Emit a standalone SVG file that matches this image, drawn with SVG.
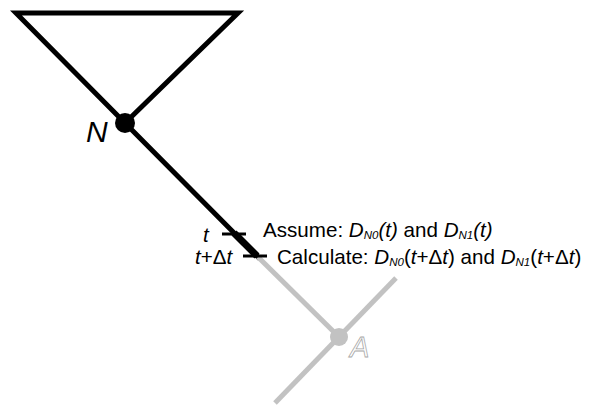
<svg xmlns="http://www.w3.org/2000/svg" width="592" height="406" viewBox="0 0 592 406">
<style>
.blk{stroke:#000;stroke-width:5;fill:none;stroke-linecap:square;stroke-linejoin:miter}
.gry{stroke:#c2c2c2;stroke-width:5;fill:none}
.tx{font-family:"Liberation Sans",Arial,sans-serif;font-size:20.6px;fill:#000}
.it{font-style:italic}
.sub{font-style:italic;font-size:11.5px}
</style>
<rect width="592" height="406" fill="#fff"/>
<g id="connectors">
<path class="blk" d="M16,13 L238,13 L125,123 L16,13 Z"/>
<line class="blk" x1="125" y1="123" x2="258" y2="257" stroke-linecap="butt"/>
<line x1="234" y1="233" x2="257" y2="256" stroke="#000" stroke-width="7"/>
<line class="gry" x1="258" y1="257" x2="339" y2="337"/>
<line class="gry" x1="396" y1="278" x2="275" y2="403"/>
<line x1="222" y1="234" x2="246" y2="234" stroke="#000" stroke-width="3"/>
<line x1="243" y1="256" x2="267" y2="256" stroke="#000" stroke-width="3"/>
</g>
<g id="node-N">
<circle cx="125" cy="123" r="10" fill="#000"/>
<text x="86" y="142" style="font-family:'Liberation Sans',Arial,sans-serif;font-style:italic;font-size:30px" fill="#000">N</text>
</g>
<g id="node-A">
<circle cx="339" cy="337" r="9" fill="#c2c2c2"/>
<text x="350" y="357" style="font-family:'Liberation Sans',Arial,sans-serif;font-style:italic;font-size:29px" fill="#fff" stroke="#a8a8a8" stroke-width="0.8">A</text>
</g>
<g id="labels">
<text class="tx it" x="203" y="242">t</text>
<text class="tx" x="195" y="264"><tspan class="it">t</tspan>+Δ<tspan class="it">t</tspan></text>
<text class="tx" x="263" y="237">Assume: <tspan class="it">D</tspan><tspan class="sub" dy="2">N0</tspan><tspan dy="-2" class="it">(t)</tspan> and <tspan class="it">D</tspan><tspan class="sub" dy="2">N1</tspan><tspan dy="-2" class="it">(t)</tspan></text>
<text class="tx" x="277" y="264">Calculate: <tspan class="it">D</tspan><tspan class="sub" dy="2">N0</tspan><tspan dy="-2">(<tspan class="it">t</tspan>+Δ<tspan class="it">t</tspan>)</tspan> and <tspan class="it">D</tspan><tspan class="sub" dy="2">N1</tspan><tspan dy="-2">(<tspan class="it">t</tspan>+Δ<tspan class="it">t</tspan>)</tspan></text>
</g>
</svg>
